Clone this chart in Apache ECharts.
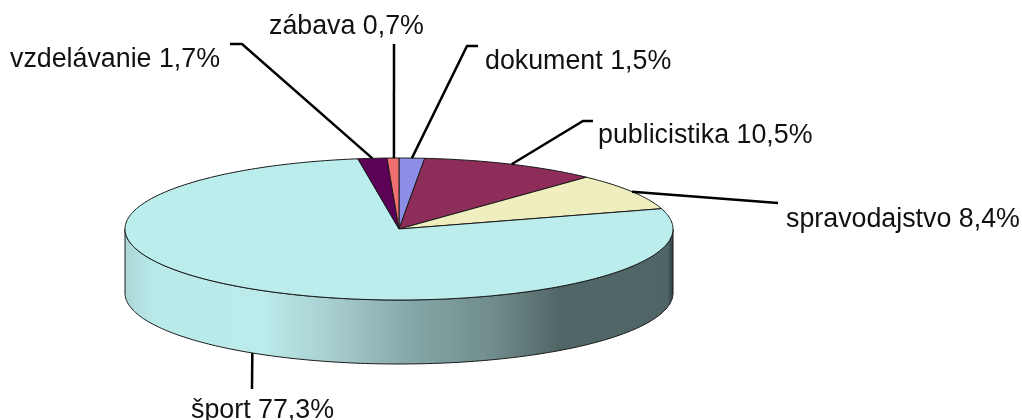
<!DOCTYPE html>
<html>
<head>
<meta charset="utf-8">
<style>html,body{margin:0;padding:0;background:#fff}#c{width:1022px;height:420px}</style>
<script src="https://cdn.jsdelivr.net/npm/echarts@6/dist/echarts.min.js"></script>
</head>
<body>
<div id="c"></div>
<script>
var categories = ['dokument', 'publicistika', 'spravodajstvo', 'šport', 'vzdelávanie', 'zábava'];
var values = [1.5, 10.5, 8.4, 77.3, 1.7, 0.7];
var colors = ['#8E8EE8', '#8E2D5A', '#EEEEBE', '#BBEDED', '#5C0058', '#EE7070'];

// page layout of the drawing (not data)
var pie = { cx: 399, cy: 229, rx: 274, ry: 71, depth: 64 };
var labelX = [485, 598, 786, 191, 10, 269];
var labelY = [62, 136, 220, 411, 60, 27];
var anchorNudge = [0, 0, 0, 0, 0, 0.2];
var elbows = [
  [[467, 46], [478, 46]],
  [[583, 121], [593, 121]],
  [[778, 203]],
  [[252, 389]],
  [[242, 44], [230, 44]],
  [[394, 44]]
];

var total = values.reduce(function (a, b) { return a + b; }, 0);

function ellipsePoint(deg, dy) {
  var r = deg * Math.PI / 180;
  return [pie.cx + pie.rx * Math.sin(r), pie.cy - pie.ry * Math.cos(r) + (dy || 0)];
}
function arc(from, to, dy) {
  var pts = [], n = Math.max(2, Math.ceil(Math.abs(to - from)));
  for (var i = 0; i <= n; i++) pts.push(ellipsePoint(from + (to - from) * i / n, dy));
  return pts;
}

var sideGradient = {
  type: 'linear', x: pie.cx - pie.rx, y: 0, x2: pie.cx + pie.rx, y2: 0, global: true,
  colorStops: [
    { offset: 0, color: '#ABD6D6' }, { offset: 0.05, color: '#B9E9E9' },
    { offset: 0.25, color: '#BBEBEB' }, { offset: 0.36, color: '#ABD2D2' },
    { offset: 0.52, color: '#86A8A8' }, { offset: 0.68, color: '#6F8A8A' },
    { offset: 0.79, color: '#516667' }, { offset: 0.99, color: '#4F6566' },
    { offset: 1, color: '#2F3F40' }
  ]
};

function renderSlice(params, api) {
  var i = params.dataIndex, before = 0;
  for (var k = 0; k < i; k++) before += values[k];
  var a0 = before / total * 360;
  var a1 = (before + api.value(0)) / total * 360;
  var mid = (a0 + a1) / 2 + anchorNudge[i];
  var children = [];
  var line = { stroke: '#1A1A1A', lineWidth: 1 };

  // visible front wall: the part of the slice between 90 and 270 degrees
  var s0 = Math.max(a0, 90), s1 = Math.min(a1, 270);
  if (s1 > s0) {
    var top = arc(s0, s1, 0), bottom = arc(s1, s0, pie.depth);
    children.push({
      type: 'polygon', shape: { points: top.concat(bottom) },
      style: Object.assign({ fill: sideGradient }, line)
    });
  }
  // top face
  children.push({
    type: 'polygon', shape: { points: [[pie.cx, pie.cy]].concat(arc(a0, a1, 0)) },
    style: Object.assign({ fill: colors[i] }, line)
  });
  // leader line starts at the slice middle on the outer edge
  var onFront = mid > 90 && mid < 270;
  var start = ellipsePoint(mid, onFront ? pie.depth : 0);
  children.push({
    type: 'polyline', shape: { points: [start].concat(elbows[i]) },
    style: { stroke: '#000', lineWidth: 2.5, fill: null }, z2: 5
  });
  children.push({
    type: 'text', x: labelX[i], y: labelY[i], z2: 6,
    style: {
      text: categories[i] + ' ' + String(api.value(0)).replace('.', ',') + '%',
      fontFamily: '"Liberation Sans", Arial, sans-serif', fontSize: 26.8,
      fill: '#111', align: 'left', verticalAlign: 'middle'
    }
  });
  return { type: 'group', children: children };
}

var chart = echarts.init(document.getElementById('c'), null, { renderer: 'canvas' });
chart.setOption({
  animation: false,
  backgroundColor: '#fff',
  series: [{
    type: 'custom',
    coordinateSystem: 'none',
    silent: true,
    clip: false,
    renderItem: renderSlice,
    data: values.map(function (v, i) { return { name: categories[i], value: [v] }; })
  }]
});
</script>
</body>
</html>
